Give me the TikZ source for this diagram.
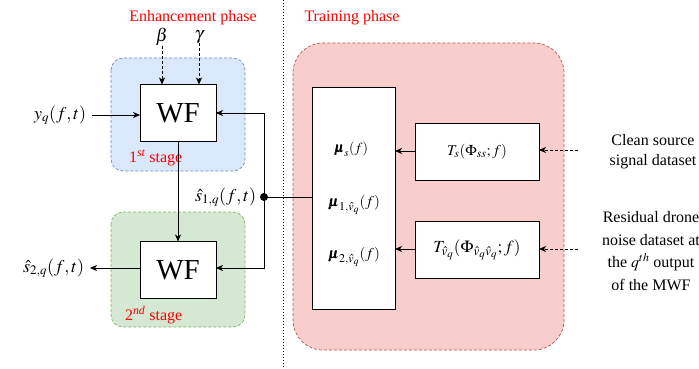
\documentclass[tikz,border=0pt]{standalone}
\usepackage{amsmath}
\usepackage{mathptmx}
\usepackage{bm}
\usepackage{fontspec}
\setmainfont{Liberation Serif}
\DeclareMathSizes{14}{14}{11}{9.5}
\DeclareMathSizes{15}{15}{12}{10}
\DeclareMathSizes{17}{17}{13}{11}
\DeclareMathSizes{18}{18}{13}{10}
\usetikzlibrary{arrows.meta}
\definecolor{bluefill}{HTML}{DAE8FC}
\definecolor{blueline}{HTML}{6C8EBF}
\definecolor{greenfill}{HTML}{D5E8D4}
\definecolor{greenline}{HTML}{82B366}
\definecolor{redfill}{HTML}{F8CECC}
\definecolor{redline}{HTML}{B85450}
\definecolor{phasered}{HTML}{FF0000}
\begin{document}
\begin{tikzpicture}[x=1pt,y=-1pt,
  every node/.style={inner sep=0pt, outer sep=0pt},
  tip/.style={-{Stealth[length=7pt,width=6pt,inset=2pt]}},
  conn/.style={tip, line width=0.8pt},
  dconn/.style={tip, line width=0.8pt, dashed, dash pattern=on 3pt off 2pt},
  stagebox/.style={dashed, dash pattern=on 3pt off 2pt, line width=0.7pt, rounded corners=12pt},
  wfbox/.style={draw, line width=0.9pt, fill=white, minimum width=76pt, minimum height=57pt, font=\fontsize{29}{32}\selectfont},
  whitebox/.style={draw, line width=0.9pt, fill=white},
  phase/.style={text=phasered, font=\fontsize{16}{19}\selectfont},
  mlabel/.style={font=\fontsize{18}{21}\selectfont},
  smlabel/.style={font=\fontsize{14}{17}\selectfont},
  sublabel/.style={font=\fontsize{15}{18}\selectfont},
  tlabel/.style={font=\fontsize{15}{18}\selectfont},
  tvlabel/.style={font=\fontsize{17}{20}\selectfont},
]
\useasboundingbox (0,0) rectangle (699,369);
% stage regions
\draw[stagebox, fill=bluefill, draw=blueline] (111,58) rectangle (245,171);
\draw[stagebox, fill=greenfill, draw=greenline] (111,212) rectangle (245,327);
\draw[stagebox, fill=redfill, draw=redline, rounded corners=30pt] (293,43) rectangle (564,350);
% divider
\draw[line width=0.8pt, dash pattern=on 1.2pt off 1.8pt] (283,0) -- (283,369);
% titles
\node[phase] (enh) at (193,18) {Enhancement phase};
\node[phase] (trn) at (352,18) {Training phase};
% WF blocks
\node[wfbox] (wf1) at (178,113) {WF};
\node[wfbox] (wf2) at (178,270) {WF};
\node[phase, anchor=west] (st1) at (129,158) {1\textsuperscript{\itshape st} stage};
\node[phase, anchor=west] (st2) at (125,315) {2\textsuperscript{\itshape nd} stage};
% inputs
\node[mlabel] (beta) at (162,37) {$\beta$};
\node[mlabel] (gamma) at (199,37) {$\gamma$};
\draw[dconn] (beta.south) -- (beta.south |- wf1.north);
\draw[dconn] (gamma.south) -- (gamma.south |- wf1.north);
\node[mlabel, anchor=east] (yq) at (86,115) {$y_q(f,t)$};
\draw[conn] (yq.east) ++(6pt,0) coordinate (yqs) -- (wf1.west |- yqs);
\node[mlabel, anchor=east] (s2) at (84,268) {$\hat{s}_{2,q}(f,t)$};
\draw[conn] (wf2.west |- 0,268) coordinate (w2o) -- ([xshift=6pt]s2.east |- w2o);
% intermediate
\draw[conn] (wf1.south) -- (wf2.north);
\node[mlabel, anchor=east] (s1) at (256,197) {$\hat{s}_{1,q}(f,t)$};
\fill (264,197) circle (4pt) coordinate (dot);
% training blocks
\node[whitebox, minimum width=83pt, minimum height=222pt] (mu) at (353.5,198) {};
\node[smlabel] (mus) at (351,149) {$\bm{\mu}_s(f)$};
\node[sublabel] (mu1) at (354,205) {$\bm{\mu}_{1,\hat{v}_q}(f)$};
\node[sublabel] (mu2) at (354,257) {$\bm{\mu}_{2,\hat{v}_q}(f)$};
\node[whitebox, minimum width=124pt, minimum height=57pt, tlabel] (ts) at (477,151.5) {$T_s(\Phi_{ss};f)$};
\node[whitebox, minimum width=124pt, minimum height=57pt, tvlabel] (tv) at (477,249.5) {$T_{\hat{v}_q}(\Phi_{\hat{v}_q\hat{v}_q};f)$};
% feedback lines
\draw[conn] (dot) |- (wf1.east);
\draw[conn] (dot) |- (wf2.east |- 0,268);
\draw[line width=0.8pt] (dot) -- (mu.west |- dot);
\draw[conn] (ts.west |- 0,151) -- (mu.east |- 0,151);
\draw[conn] (tv.west |- 0,249) -- (mu.east |- 0,249);
% datasets
\node[align=center, font=\fontsize{16}{20}\selectfont] (clean) at (653,152) {Clean source\\signal dataset};
\node[align=center, font=\fontsize{16}{22.7}\selectfont] (resid) at (651,251) {Residual drone\\noise dataset at\\the $q^{th}$ output\\of the MWF};
\coordinate (c1) at (578,150);
\coordinate (c2) at (578,249);
\draw[dconn] (c1) -- (ts.east |- c1);
\draw[dconn] (c2) -- (tv.east |- c2);
\end{tikzpicture}
\end{document}
